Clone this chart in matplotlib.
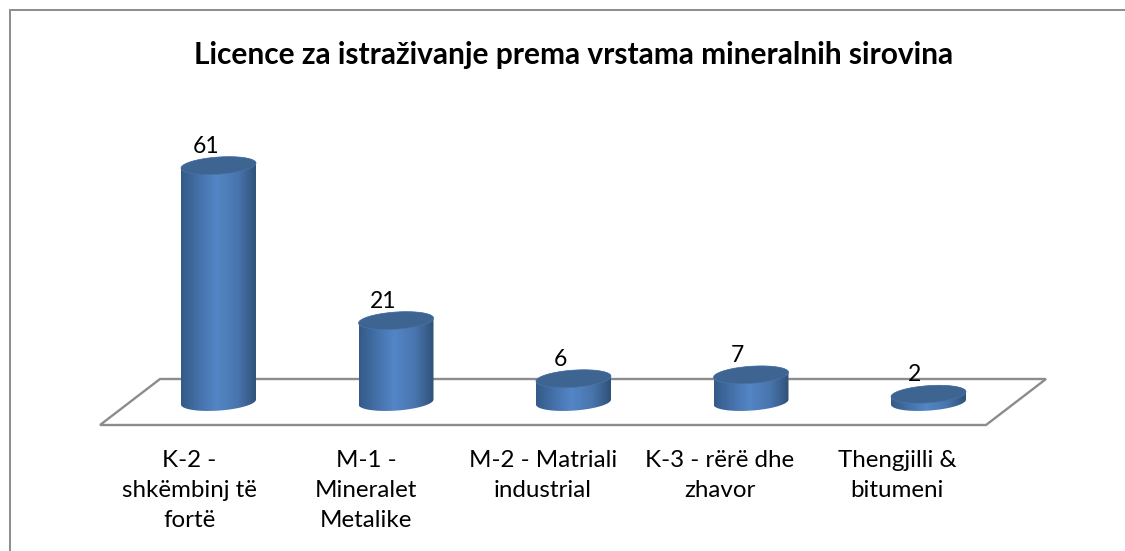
"""Licence za istrazivanje: fake-3D cylinder column chart."""
import numpy as np
import matplotlib
matplotlib.use("Agg")
import matplotlib.pyplot as plt
from matplotlib.colors import LinearSegmentedColormap
from matplotlib.patches import Polygon

plt.rcParams["font.family"] = ["Lato", "DejaVu Sans"]

# data:
categories = [
    "K-2 -\nshkëmbinj të\nfortë",
    "M-1 -\nMineralet\nMetalike",
    "M-2 - Matriali\nindustrial",
    "K-3 - rërë dhe\nzhavor",
    "Thengjilli &\nbitumeni",
    ]
values = [61, 21, 6, 7, 2]
title = "Licence za istraživanje prema vrstama mineralnih sirovina"

# pixel layout of the picture:
W, H = 1125, 551
x0_px, dx_px = 218.5, 177.5 #first bar centre, bar spacing
y0_px, dy_px = 402.0, 3.875 #baseline, pixels per licence
a_px, k_px, b_px = 37.5, 2.5, 8.6 #ellipse half width, tilt, half height

side_cmap = LinearSegmentedColormap.from_list(
    "side",
    [(0.0, "#345a88"), (0.25, "#4672ab"), (0.47, "#5386c6"),
     (0.75, "#4975ae"), (1.0, "#305279")],
    )
top_color = "#3e6592"
line_color = "#8c8c8c"

fig = plt.figure(figsize=(W/100, H/100), dpi=100)
ax = fig.add_axes([0, 0, 1, 1])
ax.axis("off")
xlim = (-x0_px/dx_px, (W-x0_px)/dx_px)
ylim = ((y0_px-H)/dy_px, y0_px/dy_px)

def px(x, y):
    # picture pixels to data coordinates
    return (x-x0_px)/dx_px, (y0_px-y)/dy_px

# frame, only top and left are visible:
ax.plot(*zip(px(9.5, H), px(9.5, 10), px(W, 10)),
    color=line_color, lw=1.4, solid_joinstyle="miter")

# floor:
floor = [px(160, 379), px(1046, 379), px(986, 425), px(100, 425)]
ax.add_patch(Polygon(floor, closed=True, fill=False,
    edgecolor=line_color, lw=1.7, zorder=1))

def ellipse(i, v, t):
    x = i + a_px*np.cos(t)/dx_px
    y = v + (k_px*np.cos(t) + b_px*np.sin(t))/dy_px
    return np.column_stack([x, y])

for i, v in enumerate(values):
    low = ellipse(i, 0, np.linspace(np.pi, 2*np.pi, 80))
    high = ellipse(i, v, np.linspace(0, np.pi, 80))
    body = Polygon(np.vstack([low, high]), closed=True,
        facecolor="none", edgecolor="none", transform=ax.transData, zorder=3)
    ax.add_patch(body)
    half = a_px/dx_px
    im = ax.imshow(
        np.linspace(0, 1, 150).reshape(1, -1),
        cmap=side_cmap,
        extent=(i-half, i+half, -4, v+4),
        aspect="auto",
        zorder=3,
        )
    im.set_clip_path(body)
    top = ellipse(i, v, np.linspace(0, 2*np.pi, 160))
    ax.add_patch(Polygon(top, closed=True, facecolor=top_color,
        edgecolor="#4a74a8", lw=0.5, zorder=4))
    ax.annotate(
        str(v),
        (i, v),
        xytext=((-12.5-0.5*i)*0.72, 19.5*0.72),
        textcoords="offset points",
        ha="center",
        va="center",
        fontsize=16.5,
        color="black",
        zorder=5,
        )
    ax.annotate(
        categories[i],
        (i, 0),
        xytext=((-29.5-0.5*i)*0.72, (402-450)*0.72),
        textcoords="offset points",
        ha="center",
        va="top",
        fontsize=17.4,
        linespacing=1.52,
        color="black",
        zorder=5,
        )

ax.text(*px(573.5, 55), title, ha="center", va="center",
    fontsize=21.55, fontweight="bold", color="black")

ax.set_xlim(xlim)
ax.set_ylim(ylim)
fig.savefig("out.png", dpi=100, facecolor="white")
